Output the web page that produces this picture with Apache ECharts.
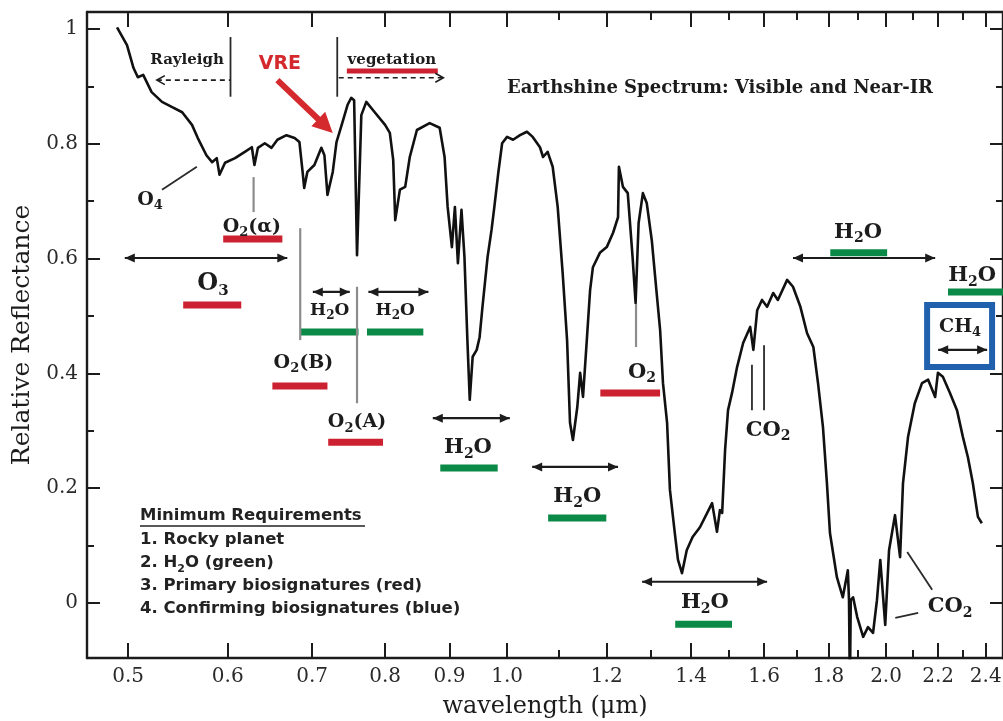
<!DOCTYPE html>
<html>
<head>
<meta charset="utf-8">
<script src="https://cdn.jsdelivr.net/npm/echarts@6.0.0/dist/echarts.min.js"></script>
<style>
html,body{margin:0;padding:0;background:#ffffff;}
#chart{width:1003px;height:721px;}
</style>
</head>
<body>
<div id="chart"></div>
<script>
// ---------------- data ----------------
const wavelength = [
0.490,0.499,0.505,0.509,0.514,0.522,0.532,0.542,0.552,0.562,
0.568,0.577,0.583,0.588,0.591,0.597,0.608,0.619,0.627,0.630,
0.634,0.642,0.650,0.657,0.668,0.678,0.684,0.688,0.690,0.694,
0.703,0.712,0.716,0.720,0.727,0.732,0.739,0.747,0.752,0.756,
0.760,0.766,0.773,0.785,0.800,0.807,0.812,0.815,0.822,0.830,
0.837,0.848,0.868,0.884,0.892,0.897,0.904,0.909,0.914,0.920,
0.925,0.930,0.934,0.939,0.946,0.951,0.956,0.965,0.972,0.977,
0.984,0.991,1.000,1.011,1.024,1.037,1.048,1.062,1.068,1.077,
1.087,1.097,1.107,1.116,1.122,1.128,1.137,1.143,1.149,1.157,
1.164,1.170,1.185,1.200,1.214,1.225,1.227,1.236,1.247,1.258,
1.265,1.272,1.282,1.291,1.303,1.314,1.323,1.330,1.340,1.347,
1.359,1.367,1.377,1.389,1.404,1.423,1.442,1.455,1.468,1.476,
1.482,1.490,1.498,1.509,1.523,1.540,1.560,1.569,1.580,1.594,
1.609,1.627,1.641,1.669,1.687,1.710,1.731,1.751,1.766,1.782,
1.795,1.805,1.828,1.848,1.865,1.869,1.872,1.875,1.883,1.897,
1.918,1.935,1.953,1.967,1.979,1.997,2.011,2.033,2.052,2.063,
2.082,2.108,2.136,2.160,2.188,2.199,2.219,2.248,2.277,2.302,
2.323,2.344,2.366,2.383
];
const reflectance = [
1.003,0.972,0.932,0.916,0.920,0.890,0.873,0.864,0.855,0.833,
0.810,0.780,0.768,0.775,0.746,0.767,0.775,0.786,0.794,0.763,
0.793,0.801,0.793,0.807,0.815,0.810,0.803,0.751,0.723,0.751,
0.763,0.793,0.780,0.711,0.751,0.803,0.833,0.868,0.880,0.876,
0.606,0.850,0.873,0.855,0.833,0.819,0.772,0.667,0.720,0.725,
0.777,0.824,0.836,0.828,0.777,0.690,0.620,0.690,0.592,0.685,
0.603,0.458,0.354,0.429,0.441,0.463,0.516,0.603,0.650,0.690,
0.749,0.801,0.812,0.807,0.815,0.821,0.812,0.794,0.777,0.786,
0.760,0.690,0.575,0.458,0.314,0.284,0.341,0.401,0.359,0.458,
0.545,0.585,0.610,0.620,0.645,0.672,0.760,0.725,0.714,0.603,
0.523,0.662,0.714,0.697,0.632,0.545,0.476,0.383,0.314,0.197,
0.122,0.075,0.052,0.092,0.115,0.132,0.157,0.174,0.124,0.162,
0.157,0.267,0.336,0.366,0.411,0.453,0.481,0.441,0.510,0.528,
0.516,0.540,0.528,0.563,0.551,0.516,0.470,0.446,0.383,0.307,
0.209,0.122,0.045,0.010,0.057,0.005,-0.150,0.005,0.010,-0.024,
-0.059,-0.042,-0.052,0.005,0.075,-0.038,0.092,0.153,0.080,0.209,
0.289,0.348,0.383,0.389,0.359,0.401,0.394,0.366,0.336,0.289,
0.254,0.209,0.150,0.139
];

const xMajorTicks = [0.5,0.6,0.7,0.8,0.9,1.0,1.2,1.4,1.6,1.8,2.0,2.2,2.4];
const xMinorTicks = [1.1,1.3,1.5,1.7,1.9,2.1,2.3];
const yMajorTicks = [0,0.2,0.4,0.6,0.8,1];
const yMinorTicks = [0.1,0.3,0.5,0.7,0.9];
const xRange = [0.4638, 2.477];
const yRange = [-0.0958, 1.0296];

const xTitle = 'wavelength (μm)';
const yTitle = 'Relative Reflectance';
const chartTitle = 'Earthshine Spectrum: Visible and Near-IR';
const requirementsHeading = 'Minimum Requirements';
const requirements = ['1. Rocky planet', '2. H_2O (green)', '3. Primary biosignatures (red)', '4. Confirming biosignatures (blue)'];

// absorption-band bars: [from µm, to µm, reflectance level, kind]
const bandBars = [
  [0.595, 0.663, 0.634, 'primary'],   // O2(alpha)
  [0.553, 0.615, 0.519, 'primary'],   // O3
  [0.651, 0.720, 0.378, 'primary'],   // O2(B)
  [0.721, 0.797, 0.280, 'primary'],   // O2(A)
  [1.186, 1.323, 0.366, 'primary'],   // O2 1.27
  [0.746, 0.881, 0.927, 'vegetation'],
  [0.685, 0.762, 0.472, 'water'],
  [0.774, 0.858, 0.472, 'water'],
  [0.885, 0.983, 0.235, 'water'],
  [1.078, 1.199, 0.148, 'water'],
  [1.360, 1.509, -0.037, 'water'],
  [1.806, 2.004, 0.610, 'water'],
  [2.240, 2.600, 0.542, 'water']
];
// band extent arrows: [from µm, to µm, level, heads, dashed]
const bandArrows = [
  [0.527, 0.603, 0.911, 'left', true],
  [0.735, 0.890, 0.915, 'right', true],
  [0.497, 0.669, 0.601, 'both', false],
  [0.701, 0.750, 0.542, 'both', false],
  [0.776, 0.866, 0.542, 'both', false],
  [0.873, 1.005, 0.322, 'both', false],
  [1.047, 1.225, 0.237, 'both', false],
  [1.280, 1.609, 0.037, 'both', false],
  [1.687, 2.188, 0.601, 'both', false],
  [2.200, 2.406, 0.441, 'both', false]
];
// marker / pointer lines: [µm1, level1, µm2, level2, kind]
const markerLines = [
  [0.603, 0.986, 0.603, 0.882, 'divider'],
  [0.733, 0.986, 0.733, 0.882, 'divider'],
  [0.629, 0.742, 0.629, 0.681, 'feature'],
  [0.685, 0.653, 0.685, 0.458, 'feature'],
  [0.760, 0.551, 0.760, 0.348, 'feature'],
  [1.266, 0.523, 1.266, 0.446, 'feature'],
  [1.565, 0.415, 1.565, 0.336, 'divider'],
  [1.600, 0.449, 1.600, 0.336, 'divider'],
  [0.532, 0.720, 0.567, 0.760, 'divider'],
  [2.079, 0.089, 2.176, 0.023, 'divider'],
  [2.034, -0.026, 2.121, -0.017, 'divider']
];
// labels: [µm, level, text ('_' = subscript next char), class]
const bandLabels = [
  [0.557, 0.946, 'Rayleigh', 'note'],
  [0.810, 0.946, 'vegetation', 'note'],
  [0.660, 0.939, 'VRE', 'vre'],
  [0.5205, 0.702, 'O_4', 'medium'],
  [0.627, 0.655, 'O_2(α)', 'medium'],
  [0.584, 0.557, 'O_3', 'large'],
  [0.689, 0.418, 'O_2(B)', 'medium'],
  [0.723, 0.509, 'H_2O', 'small'],
  [0.815, 0.509, 'H_2O', 'small'],
  [0.760, 0.315, 'O_2(A)', 'medium'],
  [0.931, 0.270, 'H_2O', 'normal'],
  [1.137, 0.185, 'H_2O', 'normal'],
  [1.280, 0.402, 'O_2', 'normal'],
  [1.612, 0.301, 'CO_2', 'normal'],
  [1.436, 0.000, 'H_2O', 'normal'],
  [1.900, 0.646, 'H_2O', 'normal'],
  [2.341, 0.570, 'H_2O', 'normal'],
  [2.290, 0.481, 'CH_4', 'medium'],
  [2.249, -0.007, 'CO_2', 'normal']
];
// VRE pointer: [from µm, from level, to µm, to level]
const pointerArrows = [[0.657, 0.911, 0.727, 0.819]];
// confirming-biosignature box: [µm1, level1, µm2, level2]
const confirmBoxes = [[2.156, 0.519, 2.428, 0.411]];

// ---------------- styles ----------------
const ink = '#1c1c1c';
const colours = {primary:'#cc2130', vegetation:'#cc2130', water:'#0b8a47', confirm:'#2160ad', divider:'#2a2a2a', feature:'#8c8c8c', vre:'#d42a2e'};
const serif = '"DejaVu Serif", serif';
const sans = '"DejaVu Sans", sans-serif';
const labelStyles = {
  large:  {size: 24, sub: 15, weight: 'bold', family: serif, color: ink},
  normal: {size: 21, sub: 14, weight: 'bold', family: serif, color: ink},
  medium: {size: 19, sub: 13, weight: 'bold', family: serif, color: ink},
  small:  {size: 17, sub: 12, weight: 'bold', family: serif, color: ink},
  note:   {size: 15, sub: 10, weight: 'bold', family: serif, color: ink},
  vre:    {size: 19, sub: 12, weight: 'bold', family: sans, color: colours.vre}
};
function toRich(s) { return s.replace(/_(.)/g, '{s|$1}'); }

function richTextStyle(text, st, align) {
  return {
    text: toRich(text),
    font: st.weight + ' ' + st.size + 'px ' + st.family,
    fill: st.color,
    align: align || 'center',
    verticalAlign: 'middle',
    lineHeight: st.size + 6,
    rich: {
      s: {font: st.weight + ' ' + st.sub + 'px ' + st.family, fill: st.color, verticalAlign: 'bottom', lineHeight: st.sub}
    }
  };
}

function barItem(params, api) {
  const b = bandBars[params.dataIndex];
  const p1 = api.coord([b[0], b[2]]), p2 = api.coord([b[1], b[2]]);
  return {type: 'line', shape: {x1: p1[0], y1: p1[1], x2: p2[0], y2: p2[1]},
    style: {stroke: colours[b[3]], lineWidth: b[3] === 'vegetation' ? 5 : 7}};
}
function arrowItem(params, api) {
  const a = bandArrows[params.dataIndex];
  const p1 = api.coord([a[0], a[2]]), p2 = api.coord([a[1], a[2]]);
  const children = [{type: 'line', shape: {x1: p1[0], y1: p1[1], x2: p2[0], y2: p2[1]},
    style: {stroke: ink, lineWidth: a[4] ? 1.6 : 2.2, lineDash: a[4] ? [5, 4] : null}}];
  function head(x, y, dir) {
    if (a[4]) {
      return {type: 'polyline', shape: {points: [[x - dir * 8, y - 4.5], [x, y], [x - dir * 8, y + 4.5]]},
        style: {stroke: ink, lineWidth: 1.6, fill: null}};
    }
    return {type: 'polygon', shape: {points: [[x, y], [x - dir * 10, y - 4.5], [x - dir * 10, y + 4.5]]},
      style: {fill: ink}};
  }
  if (a[3] === 'both' || a[3] === 'left') children.push(head(p1[0], p1[1], -1));
  if (a[3] === 'both' || a[3] === 'right') children.push(head(p2[0], p2[1], 1));
  return {type: 'group', children: children};
}
function markerItem(params, api) {
  const m = markerLines[params.dataIndex];
  const p1 = api.coord([m[0], m[1]]), p2 = api.coord([m[2], m[3]]);
  return {type: 'line', shape: {x1: p1[0], y1: p1[1], x2: p2[0], y2: p2[1]},
    style: {stroke: colours[m[4]], lineWidth: m[4] === 'feature' ? 2.2 : 1.8}};
}
function labelItem(params, api) {
  const l = bandLabels[params.dataIndex];
  const p = api.coord([l[0], l[1]]);
  return {type: 'text', x: p[0], y: p[1], style: richTextStyle(l[2], labelStyles[l[3]])};
}
function pointerItem(params, api) {
  const a = pointerArrows[params.dataIndex];
  const p1 = api.coord([a[0], a[1]]), p2 = api.coord([a[2], a[3]]);
  const dx = p2[0] - p1[0], dy = p2[1] - p1[1], len = Math.sqrt(dx * dx + dy * dy);
  const ux = dx / len, uy = dy / len, nx = -uy, ny = ux;
  const hl = 20, hw = 10;
  const bx = p2[0] - ux * hl, by = p2[1] - uy * hl;
  return {type: 'group', children: [
    {type: 'line', shape: {x1: p1[0], y1: p1[1], x2: bx + ux * 2, y2: by + uy * 2}, style: {stroke: colours.vre, lineWidth: 6}},
    {type: 'polygon', shape: {points: [[p2[0], p2[1]], [bx + nx * hw, by + ny * hw], [bx - nx * hw, by - ny * hw]]}, style: {fill: colours.vre}}
  ]};
}
function boxItem(params, api) {
  const b = confirmBoxes[params.dataIndex];
  const p1 = api.coord([b[0], b[1]]), p2 = api.coord([b[2], b[3]]);
  return {type: 'rect', shape: {x: p1[0], y: p1[1], width: p2[0] - p1[0], height: p2[1] - p1[1]},
    style: {stroke: colours.confirm, lineWidth: 6, fill: null}};
}

function customSeries(items, xi, yi, fn, z) {
  return {type: 'custom', coordinateSystem: 'cartesian2d', xAxisIndex: 0, yAxisIndex: 0,
    data: items.map(function (it) { return [it[xi], it[yi]]; }), encode: {x: 0, y: 1},
    renderItem: fn, silent: true, animation: false, z: z};
}

// ---------------- axes ----------------
const tickFont = {fontFamily: serif, fontSize: 20, color: '#2a2a2a'};
function xAxisDef(pos, ticks, len, main) {
  return {
    type: 'log', logBase: 10, min: xRange[0], max: xRange[1], position: pos,
    axisLine: {show: main, onZero: false, lineStyle: {color: ink, width: 2.4}},
    axisTick: {show: true, inside: true, length: len, customValues: ticks, lineStyle: {color: ink, width: 2}},
    axisLabel: (main && pos === 'bottom') ? Object.assign({show: true, customValues: ticks, margin: 9,
      formatter: function (v) { return Number(v).toFixed(1); }}, tickFont) : {show: false},
    splitLine: {show: false}, minorTick: {show: false},
    name: (main && pos === 'bottom') ? xTitle : '', nameLocation: 'middle', nameGap: 37,
    nameTextStyle: {fontFamily: serif, fontSize: 24, color: ink}
  };
}
function yAxisDef(pos, ticks, len, main) {
  return {
    type: 'value', min: yRange[0], max: yRange[1], position: pos,
    axisLine: {show: main, onZero: false, lineStyle: {color: ink, width: 2.4}},
    axisTick: {show: true, inside: true, length: len, customValues: ticks, lineStyle: {color: ink, width: 2}},
    axisLabel: (main && pos === 'left') ? Object.assign({show: true, customValues: ticks, margin: 9}, tickFont) : {show: false},
    splitLine: {show: false},
    name: (main && pos === 'left') ? yTitle : '', nameLocation: 'middle', nameGap: 44, nameRotate: 90,
    nameTextStyle: {fontFamily: serif, fontSize: 25, color: ink}
  };
}

const reqItems = [];
reqItems.push({type: 'text', x: 140, y: 516, style: {text: requirementsHeading, font: 'bold 16.5px ' + sans, fill: '#222', align: 'left', verticalAlign: 'middle'}});
reqItems.push({type: 'line', shape: {x1: 140, y1: 526, x2: 365, y2: 526}, style: {stroke: '#222', lineWidth: 1.5}});
requirements.forEach(function (r, i) {
  const st = {size: 16.5, sub: 11, weight: 'bold', family: sans, color: '#222'};
  reqItems.push({type: 'text', x: 140, y: 540 + i * 23, style: richTextStyle(r, st, 'left')});
});

const option = {
  backgroundColor: '#ffffff',
  animation: false,
  grid: {left: 87, right: 0, top: 12, bottom: 63, containLabel: false, outerBoundsMode: 'none'},
  xAxis: [xAxisDef('bottom', xMajorTicks, 15, true), xAxisDef('bottom', xMinorTicks, 8, false),
          xAxisDef('top', xMajorTicks, 15, true), xAxisDef('top', xMinorTicks, 8, false)],
  yAxis: [yAxisDef('left', yMajorTicks, 13, true), yAxisDef('left', yMinorTicks, 7, false),
          yAxisDef('right', yMajorTicks, 13, true), yAxisDef('right', yMinorTicks, 7, false)],
  graphic: [{type: 'text', x: 720, y: 88, style: {text: chartTitle, font: 'bold 18px ' + serif, fill: ink, align: 'center', verticalAlign: 'middle'}}].concat(reqItems),
  series: [
    customSeries(bandBars, 0, 2, barItem, 2),
    customSeries(markerLines, 0, 1, markerItem, 3),
    customSeries(bandArrows, 0, 2, arrowItem, 3),
    customSeries(confirmBoxes, 0, 1, boxItem, 3),
    customSeries(pointerArrows, 0, 1, pointerItem, 4),
    customSeries(bandLabels, 0, 1, labelItem, 6),
    {type: 'line', name: 'Earthshine', data: wavelength.map(function (w, i) { return [w, reflectance[i]]; }),
      xAxisIndex: 0, yAxisIndex: 0, showSymbol: false, symbol: 'none', clip: true,
      lineStyle: {color: '#111111', width: 2.6, join: 'round'}, z: 5, animation: false}
  ]
};

const chart = echarts.init(document.getElementById('chart'), null, {renderer: 'canvas'});
chart.setOption(option);
</script>
</body>
</html>
